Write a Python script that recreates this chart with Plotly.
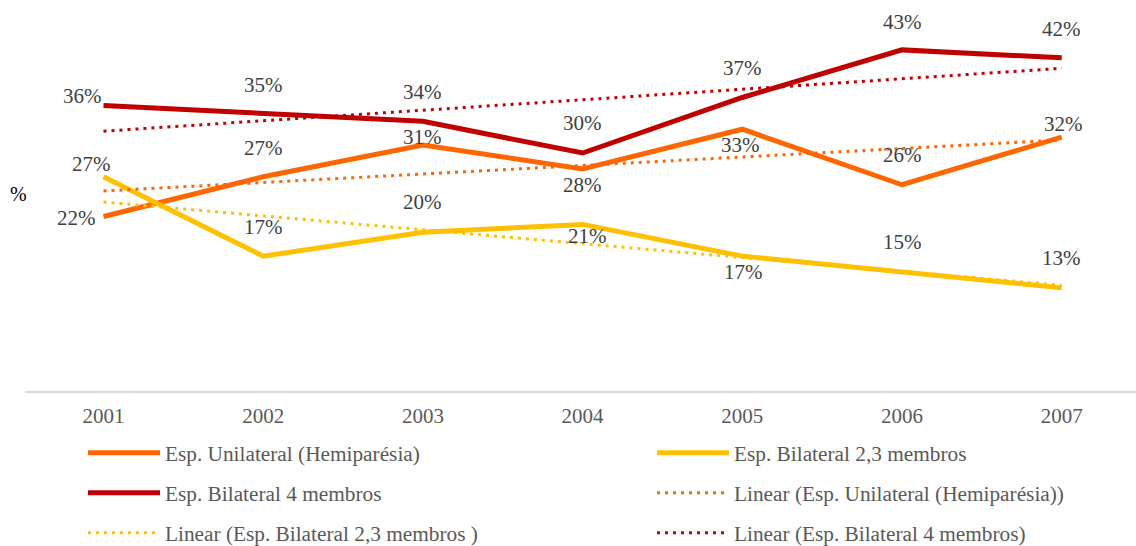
import numpy as np
import plotly.graph_objects as go

# Distribution of spasticity types by year (%)
years = [2001, 2002, 2003, 2004, 2005, 2006, 2007]
unilateral = [22, 27, 31, 28, 33, 26, 32]
bilateral_23 = [27, 17, 20, 21, 17, 15, 13]
bilateral_4 = [36, 35, 34, 30, 37, 43, 42]

series_names = [
    "Esp. Unilateral (Hemiparésia)",
    "Esp. Bilateral 2,3 membros",
    "Esp. Bilateral 4 membros",
]
trend_names = [
    "Linear (Esp. Unilateral (Hemiparésia))",
    "Linear (Esp. Bilateral 2,3 membros )",
    "Linear (Esp. Bilateral 4 membros)",
]
colors = ["#FF6600", "#FFC000", "#C00000"]
series_values = [unilateral, bilateral_23, bilateral_4]

# data-label offsets in pixels (dx, dy with dy positive = upward)
label_offsets = [
    [(-27, -2), (0, 29), (0, 8), (0, -16), (-2, -16), (0, 30), (2, 13)],
    [(-12, 13), (0, 29), (0, 30), (5, -12), (1, -16), (0, 30), (0, 30)],
    [(-21, 9), (0, 28), (0, 29), (0, 30), (0, 29), (0, 28), (0, 29)],
]

FONT = "Liberation Serif, Times New Roman, serif"
W, H = 1136, 546

# one legend box per entry, laid out as a 2-column grid (col, row)
legend_slots = [(0, 0), (1, 0), (0, 1), (1, 1), (0, 2), (1, 2)]
col_x = [83, 652]
row_y = [453, 493, 533]

fig = go.Figure()

trace_idx = 0


def legend_id(i):
    return "legend" if i == 0 else f"legend{i + 1}"


for name, vals, col in zip(series_names, series_values, colors):
    fig.add_trace(go.Scatter(
        x=years, y=vals, name=name, mode="lines",
        line=dict(color=col, width=5), legend=legend_id(trace_idx),
    ))
    trace_idx += 1

xi = np.array(years, dtype=float)
for name, vals, col in zip(trend_names, series_values, colors):
    slope, intercept = np.polyfit(xi, np.array(vals, dtype=float), 1)
    fit = slope * xi + intercept
    fig.add_trace(go.Scatter(
        x=years, y=fit, name=name, mode="lines",
        line=dict(color=col, width=3, dash="3px,5px"), legend=legend_id(trace_idx),
    ))
    trace_idx += 1

annotations = []
for vals, offs in zip(series_values, label_offsets):
    for yr, v, (dx, dy) in zip(years, vals, offs):
        annotations.append(dict(
            x=yr, y=v, text=f"{v}%", showarrow=False,
            xshift=dx, yshift=dy,
            font=dict(family=FONT, size=21, color="#404040"),
        ))

annotations.append(dict(
    x=0, y=0.51, xref="paper", yref="paper", text="%", showarrow=False,
    xshift=-17, font=dict(family=FONT, size=20, color="#000000"),
))

plot_left, plot_right = 25, W
plot_top, plot_bottom = 5, 391
px_per_year = 159.7
x0 = 2001 - (103.5 - plot_left) / px_per_year
x1 = x0 + (plot_right - plot_left) / px_per_year
px_per_unit = 7.933
y1 = (plot_bottom - plot_top) / px_per_unit

legend_style = dict(
    orientation="v", xref="container", yref="container",
    xanchor="left", yanchor="middle",
    font=dict(family=FONT, size=21.3, color="#595959"),
    bgcolor="rgba(0,0,0,0)", itemwidth=72,
)
legends = {}
for i, (c, r) in enumerate(legend_slots):
    legends[legend_id(i)] = dict(legend_style, x=col_x[c] / W, y=1 - row_y[r] / H)

fig.update_layout(
    width=W, height=H,
    margin=dict(l=plot_left, r=W - plot_right, t=plot_top, b=H - plot_bottom,
                autoexpand=False),
    paper_bgcolor="white", plot_bgcolor="white",
    showlegend=True,
    annotations=annotations,
    xaxis=dict(
        range=[x0, x1], tickvals=years, ticktext=[str(y) for y in years],
        showgrid=False, zeroline=False, showline=True,
        linecolor="#D9D9D9", linewidth=1.5,
        ticks="outside", ticklen=5, tickcolor="rgba(0,0,0,0)",
        tickfont=dict(family=FONT, size=21, color="#595959"),
    ),
    yaxis=dict(
        range=[0, y1], showgrid=False, zeroline=False, showline=False,
        showticklabels=False, ticks="",
    ),
    **legends,
)

fig.write_html("out.html")
